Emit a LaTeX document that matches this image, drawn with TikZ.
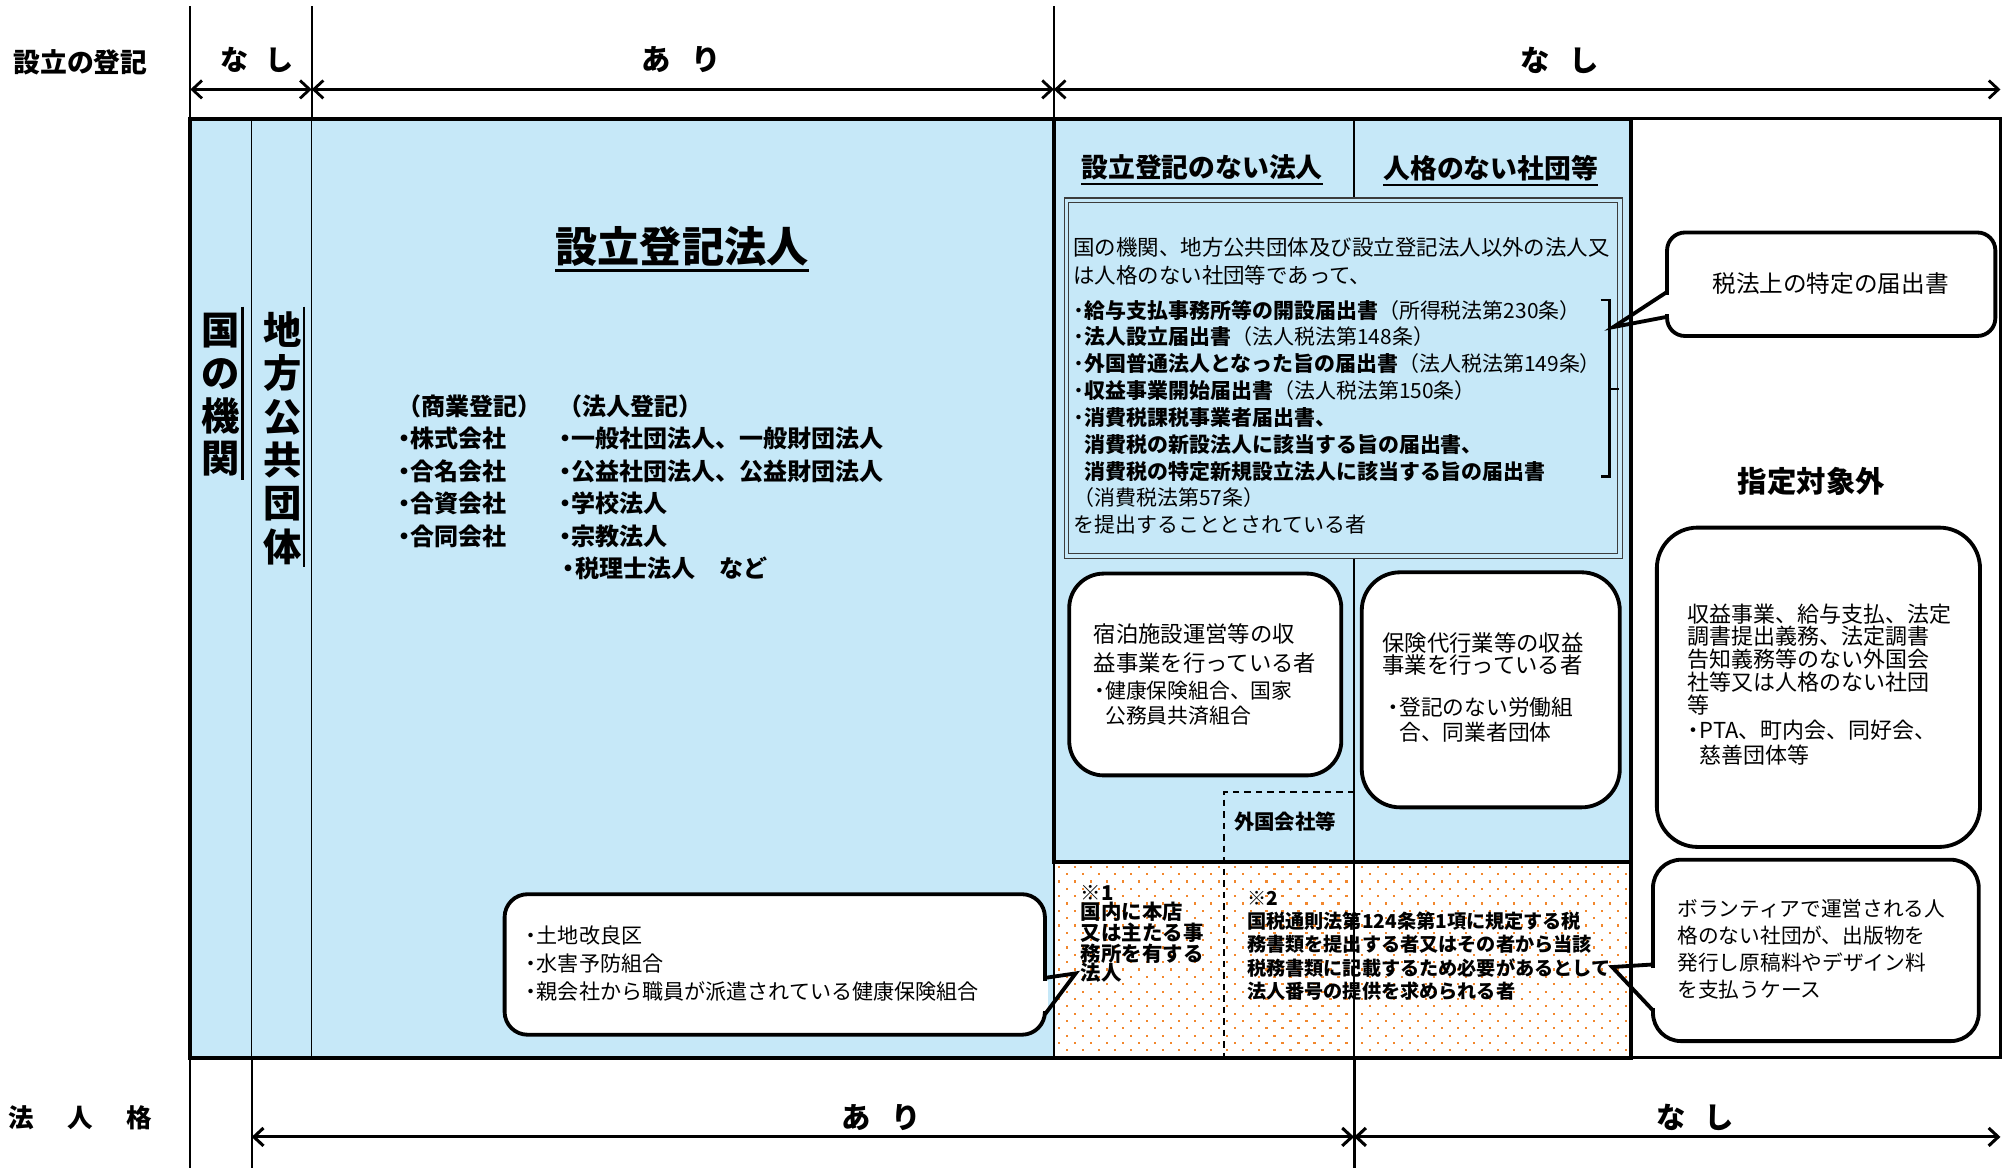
\documentclass[tikz,border=0pt]{standalone}
\usepackage{fontspec}
\setmainfont{Noto Sans CJK JP}
\usetikzlibrary{arrows.meta,calc}
\definecolor{lblue}{RGB}{198,232,248}
\definecolor{dotc}{RGB}{242,135,45}
\definecolor{dgray}{RGB}{60,60,60}
\newcommand{\fs}[2]{\fontsize{#1pt}{#2pt}\selectfont}
\newcommand{\nk}{\makebox[0.55em][c]{・}}
\newcommand{\nkind}{\hspace*{0.55em}}
\begin{document}
\begin{tikzpicture}[x=1pt,y=-1pt,
  >={Straight Barb[length=7.5pt,width=14pt]},
  tl/.style={anchor=north west,inner sep=0pt,align=left},
  lbl/.style={inner sep=0pt},
  thk/.style={line width=3.2pt},
  med/.style={line width=2.2pt},
  thn/.style={line width=1pt},
  dimline/.style={line width=2.2pt,<->},
  cbox/.style={line width=3pt,fill=white},
  ulin/.style={line width=1.5pt}]
\useasboundingbox (0,0) rectangle (1568,914);

% ---------- fills ----------
\fill[lblue] (149,93) rectangle (825,828);
\fill[lblue] (825,93) rectangle (1277,675);
\fill[white] (825,675) rectangle (1277,828);
\begin{scope}
  \clip (826,676) rectangle (1276,827);
  \foreach \k in {0,...,26}{
    \pgfmathsetmacro{\yy}{678.5+\k*5.75}
    \pgfmathsetmacro{\xo}{829+mod(\k,2)*6.25}
    \foreach \i in {0,...,36}{
      \fill[dotc] (\xo+\i*12.5-0.85,\yy-0.85) rectangle ++(1.7,1.7);
    }
  }
\end{scope}

% ---------- grid lines ----------
\draw[thn] (197,93) -- (197,828);
\draw[thn] (244,93) -- (244,828);
\draw[thn] (825,675) -- (825,828);
\draw[thn] (1060,93) -- (1060,155);
\draw[thn] (1060,437) -- (1060,828);
\draw[line width=1.2pt,dash pattern=on 5pt off 4pt] (1060,620) -- (958,620) -- (958,828);
\draw[med] (1277,93) -- (1566,93) -- (1566,828) -- (1277,828);
\draw[thk] (149,93) rectangle (1277,828);
\draw[thk] (825,93) rectangle (1277,675);

% top and bottom guide lines
\draw[line width=1.4pt] (149,5) -- (149,93);
\draw[line width=1.4pt] (244,5) -- (244,93);
\draw[line width=1.4pt] (825,5) -- (825,93);
\draw[line width=1.4pt] (149,828) -- (149,914);
\draw[line width=1.4pt] (197,828) -- (197,914);
\draw[line width=2.4pt] (1060,828) -- (1060,914);

% dimension arrows
\coordinate (ta) at (149,70);
\coordinate (tb) at (244,70);
\coordinate (tc) at (825,70);
\coordinate (td) at (1566,70);
\coordinate (ba) at (197,890);
\coordinate (bb) at (1060,890);
\coordinate (bc) at (1566,890);
\draw[dimline] (ta) -- (tb);
\draw[dimline] (tb) -- (tc);
\draw[dimline] (tc) -- (td);
\draw[dimline,line width=2.4pt] (ba) -- (bb);
\draw[dimline,line width=2.4pt] (bb) -- (bc);

% ---------- inner double box ----------
\draw[dgray,line width=0.9pt,fill=lblue] (833,155) rectangle (1270,437);
\draw[dgray,line width=0.9pt] (836.5,158.5) rectangle (1266.5,433.5);
% bracket
\draw[line width=1.7pt] (1253,235) -- (1260,235) -- (1260,373) -- (1253,373);
\draw[line width=1.7pt] (1260,304.6) -- (1267,304.6);

% ---------- rounded boxes ----------
\draw[cbox,rounded corners=27pt] (837,449) rectangle (1050,607);
\draw[cbox,rounded corners=30pt] (1066,448) rectangle (1268,632);
\draw[cbox,rounded corners=32pt] (1297,413) rectangle (1550,663);

% callout: tax forms
\coordinate (tipD) at (1263,256);
\draw[cbox,rounded corners=14pt] (1305,182) rectangle (1562,263);
\fill[white] (1303,230.8) rectangle (1308,246);
\draw[line width=3pt,line join=miter] (1305,228.5) -- (tipD) -- (1305,248);

% callout: volunteer
\coordinate (tipE) at (1262,757);
\draw[cbox,rounded corners=22pt] (1294,673) rectangle (1549,815);
\fill[white] (1292,757.8) rectangle (1297,789);
\draw[line width=3pt,line join=miter] (1294,755) -- (tipE) -- (1294,791);

% callout: land improvement
\coordinate (tipF) at (842,762);
\draw[cbox,rounded corners=18pt] (395,700) rectangle (818,810);
\fill[white] (815,768) rectangle (820.5,791.5);
\draw[line width=3pt,line join=miter] (818,765.5) -- (tipF) -- (818,794);

% ---------- header texts ----------
\node[lbl,font=\bfseries\fs{21}{21}] (hreg) at (63,49) {設立の登記};
\node[lbl,font=\bfseries\fs{22}{22}] (nashi1) at (201,47) {な\hspace{0.6em}し};
\node[lbl,font=\bfseries\fs{23}{23}] (ari1) at (533,47) {あ\hspace{0.7em}り};
\node[lbl,font=\bfseries\fs{23}{23}] (nashi2) at (1221,47) {な\hspace{0.65em}し};
\node[lbl,font=\bfseries\fs{20}{20}] (hjin) at (63,875) {法\hspace{26pt}人\hspace{26pt}格};
\node[lbl,font=\bfseries\fs{23}{23}] (ari2) at (690,875) {あ\hspace{0.7em}り};
\node[lbl,font=\bfseries\fs{23}{23}] (nashi3) at (1327,875) {な\hspace{0.65em}し};

% ---------- vertical texts ----------
\node[lbl,align=center,font=\bfseries\fs{30}{33.5}] (kuni) at (173,309) {国\\の\\機\\関};
\node[lbl,align=center,font=\bfseries\fs{30}{34}] (chiho) at (221,343) {地\\方\\公\\共\\団\\体};
\draw[line width=2.2pt] (190,240) -- (190,376);
\draw[line width=2.2pt] (238,240) -- (238,444);

% ---------- registered corporations ----------
\node[lbl,font=\bfseries\fs{33}{33}] (setsu) at (534,193) {設立登記法人};
\draw[line width=2.2pt] ($(setsu.south west)+(0,3)$) -- ($(setsu.south east)+(0,3)$);
\node[tl,font=\bfseries\fs{18.8}{25.5}] (shogyo) at (311,308.5) {（商業登記）\\\nk 株式会社\\\nk 合名会社\\\nk 合資会社\\\nk 合同会社};
\node[tl,font=\bfseries\fs{18.8}{25.5}] (hojin) at (437,308.5) {（法人登記）\\\nk 一般社団法人、一般財団法人\\\nk 公益社団法人、公益財団法人\\\nk 学校法人\\\nk 宗教法人\\\hspace*{3pt}\nk 税理士法人　など};

\node[tl,font=\fs{16.5}{22}] (tochi) at (411,724.5) {\nk 土地改良区\\\nk 水害予防組合\\\nk 親会社から職員が派遣されている健康保険組合};

% ---------- right blue box ----------
\node[lbl,font=\bfseries\fs{21}{21}] (hdr1) at (941,131) {設立登記のない法人};
\draw[ulin] ($(hdr1.south west)+(0,2.5)$) -- ($(hdr1.south east)+(0,2.5)$);
\node[lbl,font=\bfseries\fs{21}{21}] (hdr2) at (1167,132) {人格のない社団等};
\draw[ulin] ($(hdr2.south west)+(0,2.5)$) -- ($(hdr2.south east)+(0,2.5)$);

\node[tl,font=\fs{16.8}{22}] (in1) at (840,185.4) {国の機関、地方公共団体及び設立登記法人以外の法人又\\は人格のない社団等であって、};
\node[tl,font=\fs{16.4}{21}] (in2) at (840,234.6) {\nk\textbf{給与支払事務所等の開設届出書}（所得税法第230条）\\
\nk\textbf{法人設立届出書}（法人税法第148条）\\
\nk\textbf{外国普通法人となった旨の届出書}（法人税法第149条）\\
\nk\textbf{収益事業開始届出書}（法人税法第150条）\\
\nk\textbf{消費税課税事業者届出書、}\\
\nkind\textbf{消費税の新設法人に該当する旨の届出書、}\\
\nkind\textbf{消費税の特定新規設立法人に該当する旨の届出書}\\
（消費税法第57条）\\
を提出することとされている者};

\node[tl,font=\fs{17.5}{23}] (boxa1) at (856,488) {宿泊施設運営等の収\\益事業を行っている者};
\node[tl,font=\fs{16.3}{20}] (boxa2) at (856,532.7) {\nk 健康保険組合、国家\\\nkind 公務員共済組合};
\node[tl,font=\fs{17.5}{17.5}] (boxb1) at (1082,495.1) {保険代行業等の収益\\事業を行っている者};
\node[tl,font=\fs{17}{20}] (boxb2) at (1086,545.4) {\nk 登記のない労働組\\\nkind 合、同業者団体};
\node[lbl,font=\bfseries\fs{16}{16}] (gaikoku) at (1006,643) {外国会社等};

% ---------- dotted area ----------
\node[tl,font=\bfseries\fs{16}{15.25}] (kome1) at (846,692.8) {※1\\国内に本店\\又は主たる事\\務所を有する\\法人};
\node[tl,font=\bfseries\fs{15}{18.25}] (kome2) at (976,697.2) {※2\\国税通則法第124条第1項に規定する税\\務書類を提出する者又はその者から当該\\税務書類に記載するため必要があるとして\\法人番号の提供を求められる者};

% ---------- right white area ----------
\node[lbl,font=\fs{18.5}{18.5}] (tokutei) at (1433,222) {税法上の特定の届出書};
\node[lbl,font=\bfseries\fs{23}{23}] (shitei) at (1418,377) {指定対象外};
\node[tl,font=\fs{17.2}{17.8}] (boxc1) at (1321,472.3) {収益事業、給与支払、法定\\調書提出義務、法定調書\\告知義務等のない外国会\\社等又は人格のない社団\\等};
\node[tl,font=\fs{17.2}{19.5}] (boxc2) at (1321,563.3) {\nk PTA、町内会、同好会、\\\nkind 慈善団体等};
\node[tl,font=\fs{16.2}{21}] (vol) at (1313,703.7) {ボランティアで運営される人\\格のない社団が、出版物を\\発行し原稿料やデザイン料\\を支払うケース};
\end{tikzpicture}
\end{document}
